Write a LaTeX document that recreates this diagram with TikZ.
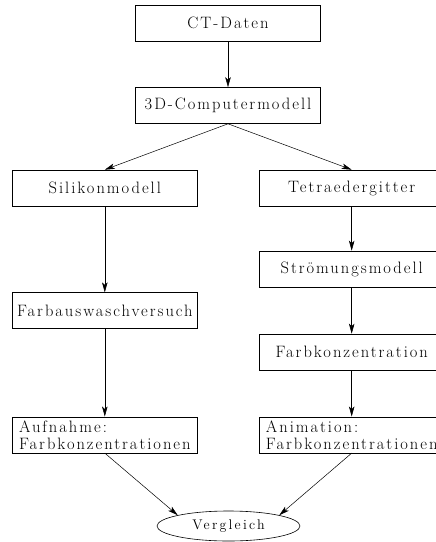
\documentclass[tikz,border=0pt]{standalone}
\usepackage{fontspec}
\setmainfont{Latin Modern Roman}[LetterSpace=12]
\newfontfamily\ovalfont{Latin Modern Roman}[LetterSpace=16]
\usetikzlibrary{arrows.meta,shapes.geometric}
\begin{document}
\begin{tikzpicture}[x=1pt,y=-1pt,
  lbl/.style={font=\fontsize{16.5}{17}\selectfont},
  box/.style={lbl, draw, line width=0.6pt, minimum width=185pt, minimum height=36pt, inner sep=2pt},
  two/.style={box, align=left},
  oval/.style={draw, ellipse, line width=0.6pt, minimum width=143pt, minimum height=30pt, inner sep=0pt, font=\ovalfont\fontsize{14}{15}\selectfont},
  conn/.style={line width=0.5pt, -{Stealth[length=10pt,width=5.5pt,inset=2.5pt]}}]
\useasboundingbox (0,0) rectangle (436,542);
\node[box] (ct) at (228,23) {CT-Daten};
\node[box] (comp) at (228,105.5) {3D-Computermodell};
\node[box] (sil) at (104.8,188) {Silikonmodell};
\node[box] (tet) at (351.7,188) {Tetraedergitter};
\node[box] (farb) at (104.8,310.7) {Farbauswaschversuch};
\node[box] (str) at (351.7,269) {Strömungsmodell};
\node[box] (fk) at (351.7,352) {Farbkonzentration};
\node[two] (auf) at (104.8,434.8) {Aufnahme:\\Farbkonzentrationen};
\node[two] (ani) at (351.7,434.8) {Animation:\\Farbkonzentrationen};
\node[oval] (verg) at (228.5,526) {Vergleich};
\draw[conn] (ct) -- (comp);
\draw[conn] (comp.south) -- (sil.north);
\draw[conn] (comp.south) -- (tet.north);
\draw[conn] (sil) -- (farb);
\draw[conn] (farb) -- (auf);
\draw[conn] (tet) -- (str);
\draw[conn] (str) -- (fk);
\draw[conn] (fk) -- (ani);
\draw[conn] (auf.south) -- (verg.168);
\draw[conn] (ani.south) -- (verg.12);
\end{tikzpicture}
\end{document}
